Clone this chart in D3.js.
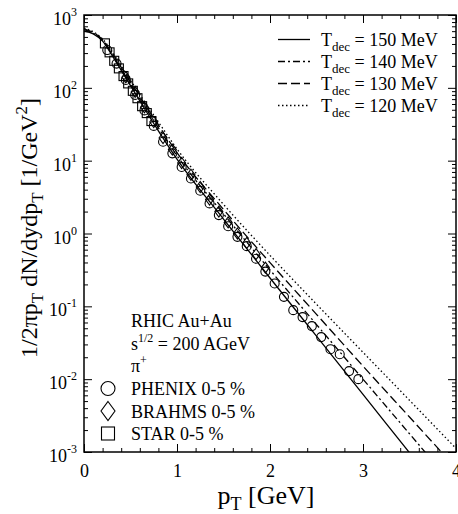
<!DOCTYPE html>
<html>
<head>
<meta charset="utf-8">
<script src="https://cdn.jsdelivr.net/npm/d3@7.9.0/dist/d3.min.js"></script>
<style>
  body { margin: 0; background: #fff; }
  svg { display: block; font-family: "Liberation Serif", "Times New Roman", serif; }
  .tick line { stroke: #000; stroke-width: 1; }
</style>
</head>
<body>
<svg id="chart" width="458" height="514"></svg>
<script>
// model curves, pT grid [GeV]
const curvePt = [0, 0.1, 0.2, 0.3, 0.4, 0.6, 0.8, 1.0, 1.5, 2.0, 2.5, 3.0, 3.5, 4.0];
const t150 = [603, 550, 437, 282, 174, 66.1, 25.7, 10.5, 1.58, 0.245, 0.0389, 0.00617, 0.000977, 0.000155];
const t140 = [631, 562, 447, 288, 182, 70.8, 28.2, 11.7, 1.86, 0.316, 0.0562, 0.0100, 0.00178, 0.000316];
const t130 = [646, 575, 457, 302, 191, 75.9, 30.9, 12.9, 2.14, 0.398, 0.0776, 0.0151, 0.00302, 0.000603];
const t120 = [661, 589, 468, 316, 200, 81.3, 33.9, 14.5, 2.51, 0.501, 0.107, 0.0234, 0.00513, 0.00112];

const curveLabels = ['150', '140', '130', '120'];

// data points
const phenixPt = [0.25, 0.35, 0.45, 0.55, 0.65, 0.75, 0.85, 0.95, 1.05, 1.15, 1.25, 1.35, 1.45, 1.55,
  1.65, 1.75, 1.85, 1.95, 2.05, 2.15, 2.25, 2.35, 2.45, 2.55, 2.65, 2.75, 2.85, 2.95];
const phenixVal = [330, 215, 128, 80, 49, 30, 18.2, 12.6, 8.2, 5.7, 3.86, 2.59, 1.79, 1.26,
  0.90, 0.67, 0.45, 0.30, 0.206, 0.135, 0.0887, 0.0711, 0.0535, 0.0378, 0.0258, 0.0220, 0.0129, 0.0100];

const brahmsPt = [0.45, 0.55, 0.65, 0.75, 0.85, 0.95, 1.05, 1.15, 1.25, 1.35, 1.45, 1.55, 1.65, 1.75, 1.85, 1.95];
const brahmsVal = [140, 88, 54, 34, 20.5, 14.2, 9.3, 6.4, 4.35, 2.92, 2.0, 1.42, 1.0, 0.74, 0.52, 0.34];

const starPt = [0.225, 0.275, 0.325, 0.375, 0.425, 0.475, 0.525, 0.575, 0.625, 0.675, 0.725];
const starVal = [408, 307, 235, 185, 145, 115, 91, 72, 56, 45, 35];

const xTicks = [0, 1, 2, 3, 4];
const yTicks = [1e-3, 1e-2, 1e-1, 1, 10, 100, 1000];
const yExp = ['-3', '-2', '-1', '0', '1', '2', '3'];

const svg = d3.select('#chart');
const mLeft = 84, mRight = 456, mTop = 15, mBottom = 452;

const x = d3.scaleLinear().domain([0, 4]).range([mLeft, mRight]);
const y = d3.scaleLog().domain([1e-3, 1e3]).range([mBottom, mTop]);

svg.append('clipPath').attr('id', 'clip')
  .append('rect').attr('x', mLeft).attr('y', mTop).attr('width', mRight - mLeft).attr('height', mBottom - mTop);

// axes
const minorX = d3.range(0, 4.01, 0.2).filter((d) => Math.abs(d - Math.round(d)) > 1e-6);
const minorY = [];
for (let e = -3; e < 3; e++) for (let m = 2; m <= 9; m++) minorY.push(m * Math.pow(10, e));

function noDomain(g) { g.select('.domain').remove(); }

svg.append('g').attr('transform', `translate(0,${mBottom})`)
  .call(d3.axisBottom(x).tickValues(xTicks).tickSize(-8).tickPadding(12).tickFormat(d3.format('d')))
  .call(noDomain)
  .call((g) => g.selectAll('text').attr('font-size', 18).attr('font-family', 'Liberation Serif').attr('fill', '#000'));
svg.append('g').attr('transform', `translate(0,${mBottom})`)
  .call(d3.axisBottom(x).tickValues(minorX).tickSize(-4).tickFormat('')).call(noDomain);
svg.append('g').attr('transform', `translate(0,${mTop})`)
  .call(d3.axisTop(x).tickValues(xTicks).tickSize(-8).tickFormat('')).call(noDomain);
svg.append('g').attr('transform', `translate(0,${mTop})`)
  .call(d3.axisTop(x).tickValues(minorX).tickSize(-4).tickFormat('')).call(noDomain);

svg.append('g').attr('transform', `translate(${mLeft},0)`)
  .call(d3.axisLeft(y).tickValues(yTicks).tickSize(-8).tickFormat('')).call(noDomain);
svg.append('g').attr('transform', `translate(${mLeft},0)`)
  .call(d3.axisLeft(y).tickValues(minorY).tickSize(-4).tickFormat('')).call(noDomain);
svg.append('g').attr('transform', `translate(${mRight},0)`)
  .call(d3.axisRight(y).tickValues(yTicks).tickSize(-8).tickFormat('')).call(noDomain);
svg.append('g').attr('transform', `translate(${mRight},0)`)
  .call(d3.axisRight(y).tickValues(minorY).tickSize(-4).tickFormat('')).call(noDomain);

// y tick labels 10^n
yTicks.forEach((v, i) => {
  const t = svg.append('text').attr('x', 77).attr('y', y(v) + 10)
    .attr('text-anchor', 'end').attr('font-size', 18);
  t.append('tspan').text('10');
  t.append('tspan').attr('dy', -9).attr('font-size', 12).text(yExp[i]);
});

svg.append('rect').attr('x', mLeft).attr('y', mTop).attr('width', mRight - mLeft).attr('height', mBottom - mTop)
  .attr('fill', 'none').attr('stroke', '#000').attr('stroke-width', 1.5);

// curves
const dashes = ['none', '7,3,2,3', '9,4', '1.5,2.5'];
const curves = [t150, t140, t130, t120];
const line = d3.line().x((d) => x(d[0])).y((d) => y(d[1])).curve(d3.curveMonotoneX);
const plot = svg.append('g').attr('clip-path', 'url(#clip)');
curves.forEach((vals, i) => {
  plot.append('path')
    .attr('d', line(curvePt.map((p, j) => [p, vals[j]])))
    .attr('fill', 'none').attr('stroke', '#000').attr('stroke-width', 1.3)
    .attr('stroke-dasharray', dashes[i]);
});

// markers
const sym = { fill: 'none', stroke: '#000', 'stroke-width': 1.1 };
function applySym(sel) { Object.entries(sym).forEach(([k, v]) => sel.attr(k, v)); return sel; }

plot.selectAll('.phenix').data(phenixPt.map((p, i) => [p, phenixVal[i]])).join('circle')
  .attr('cx', (d) => x(d[0])).attr('cy', (d) => y(d[1])).attr('r', 4.5).call(applySym);

const diamond = (w, h) => `M0,${-h}L${w},0L0,${h}L${-w},0Z`;
plot.selectAll('.brahms').data(brahmsPt.map((p, i) => [p, brahmsVal[i]])).join('path')
  .attr('transform', (d) => `translate(${x(d[0])},${y(d[1])})`)
  .attr('d', diamond(4, 5.5)).call(applySym);

plot.selectAll('.star').data(starPt.map((p, i) => [p, starVal[i]])).join('rect')
  .attr('x', (d) => x(d[0]) - 4.5).attr('y', (d) => y(d[1]) - 4.5)
  .attr('width', 9).attr('height', 9).call(applySym);

// curve legend
curveLabels.forEach((lab, i) => {
  const yy = 39.5 + i * 22;
  svg.append('line').attr('x1', 278).attr('x2', 310).attr('y1', yy).attr('y2', yy)
    .attr('stroke', '#000').attr('stroke-width', 1.3).attr('stroke-dasharray', dashes[i]);
  const t = svg.append('text').attr('x', 321).attr('y', yy + 6).attr('font-size', 18);
  t.append('tspan').text('T');
  t.append('tspan').attr('dy', 5).attr('font-size', 13).text('dec');
  t.append('tspan').attr('dy', -5).text(` = ${lab} MeV`);
});

// system text
svg.append('text').attr('x', 131).attr('y', 327).attr('font-size', 18).text('RHIC Au+Au');
const s = svg.append('text').attr('x', 131).attr('y', 350).attr('font-size', 18);
s.append('tspan').text('s');
s.append('tspan').attr('dy', -8).attr('font-size', 12).text('1/2');
s.append('tspan').attr('dy', 8).text(' = 200 AGeV');
const pi = svg.append('text').attr('x', 131).attr('y', 372).attr('font-size', 18);
pi.append('tspan').text('π');
pi.append('tspan').attr('dy', -8).attr('font-size', 12).text('+');

// data legend
const dataLegend = ['PHENIX 0-5 %', 'BRAHMS 0-5 %', 'STAR 0-5 %'];
dataLegend.forEach((lab, i) => {
  const yy = 388.5 + i * 22.5;
  if (i === 0) svg.append('circle').attr('cx', 108).attr('cy', yy).attr('r', 7).call(applySym);
  if (i === 1) svg.append('path').attr('transform', `translate(108,${yy})`).attr('d', diamond(7, 9.5)).call(applySym);
  if (i === 2) svg.append('rect').attr('x', 101.5).attr('y', yy - 6.5).attr('width', 13).attr('height', 13).call(applySym);
  svg.append('text').attr('x', 131).attr('y', yy + 6.5).attr('font-size', 18).text(lab);
});

// axis titles
const xl = svg.append('text').attr('x', 266).attr('y', 504).attr('text-anchor', 'middle').attr('font-size', 26);
xl.append('tspan').text('p');
xl.append('tspan').attr('dy', 6).attr('font-size', 18).text('T');
xl.append('tspan').attr('dy', -6).text(' [GeV]');

const yl = svg.append('text').attr('transform', 'translate(37,228) rotate(-90)')
  .attr('text-anchor', 'middle').attr('font-size', 24);
yl.append('tspan').text('1/2πp');
yl.append('tspan').attr('dy', 6).attr('font-size', 17).text('T');
yl.append('tspan').attr('dy', -6).text(' dN/dydp');
yl.append('tspan').attr('dy', 6).attr('font-size', 17).text('T');
yl.append('tspan').attr('dy', -6).text(' [1/GeV');
yl.append('tspan').attr('dy', -10).attr('font-size', 17).text('2');
yl.append('tspan').attr('dy', 10).text(']');
</script>
</body>
</html>
